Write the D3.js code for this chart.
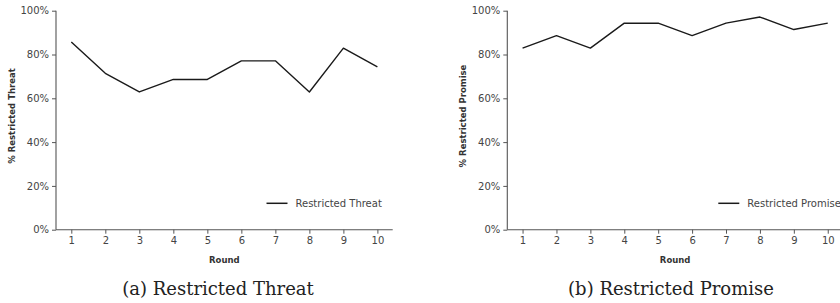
<!DOCTYPE html>
<html lang="en">
<head>
<meta charset="utf-8">
<title>Restricted Threat / Restricted Promise</title>
<script src="https://d3js.org/d3.v7.min.js"></script>
<style>
  body { margin: 0; background: #fff; }
  text { font-family: "DejaVu Sans", sans-serif; }
</style>
</head>
<body>
<svg width="840" height="303"></svg>
<script>
var rounds = [1, 2, 3, 4, 5, 6, 7, 8, 9, 10];
var threat = [0.857, 0.714, 0.629, 0.686, 0.686, 0.771, 0.771, 0.629, 0.829, 0.743];
var promise = [0.829, 0.886, 0.829, 0.943, 0.943, 0.886, 0.943, 0.971, 0.914, 0.943];
var yTicks = [0, 0.2, 0.4, 0.6, 0.8, 1];

var svg = d3.select("svg");

function panel(opt) {
  var x = d3.scaleLinear()
      .domain([0.55, 10.45])
      .range([opt.left, opt.right]);
  var y = d3.scaleLinear()
      .domain([0, 1])
      .range([229.7, 10.7]);

  var g = svg.append("g");

  // y axis
  var ya = g.append("g")
      .attr("transform", "translate(" + opt.left + ",0)")
      .call(d3.axisLeft(y).tickValues(yTicks).tickSize(4).tickPadding(3)
        .tickFormat(d3.format(".0%")));
  // x axis
  var xa = g.append("g")
      .attr("transform", "translate(0," + y(0) + ")")
      .call(d3.axisBottom(x).tickValues(rounds).tickSize(4).tickPadding(3));

  [ya, xa].forEach(function(a) {
    a.select(".domain").attr("stroke", "#555").attr("stroke-width", 1.1)
      .attr("d", a === ya ? "M0," + y(1) + "V" + y(0) : "M" + opt.left + ",0H" + opt.right);
    a.selectAll(".tick line").attr("stroke", "#555");
    a.selectAll(".tick text").attr("fill", "#444").style("font-size", "10px")
      .style("font-family", "DejaVu Sans, sans-serif");
  });

  // line
  g.append("path")
      .datum(opt.values)
      .attr("fill", "none")
      .attr("stroke", "#1a1a1a")
      .attr("stroke-width", 1.4)
      .attr("stroke-linejoin", "round")
      .attr("d", d3.line()
        .x(function(d, i) { return x(rounds[i]); })
        .y(function(d) { return y(d); }));

  // axis titles
  g.append("text")
      .attr("transform", "translate(" + opt.ylabX + ",116) rotate(-90)")
      .attr("text-anchor", "middle")
      .attr("font-weight", "bold")
      .style("font-size", "8.5px")
      .attr("fill", "#333")
      .text(opt.ylab);

  g.append("text")
      .attr("x", x(5.5))
      .attr("y", 263)
      .attr("text-anchor", "middle")
      .attr("font-weight", "bold")
      .style("font-size", "8.5px")
      .attr("fill", "#333")
      .text("Round");

  // legend
  g.append("line")
      .attr("x1", opt.legX).attr("x2", opt.legX + 21)
      .attr("y1", 203.3).attr("y2", 203.3)
      .attr("stroke", "#1a1a1a").attr("stroke-width", 1.5);
  g.append("text")
      .attr("x", opt.legX + 29)
      .attr("y", 206.8)
      .style("font-size", "10px")
      .attr("fill", "#444")
      .text(opt.name);

  // caption
  svg.append("text")
      .attr("x", opt.capX)
      .attr("y", 295)
      .attr("text-anchor", "middle")
      .style("font-family", "DejaVu Serif, serif")
      .style("font-size", "18px")
      .attr("fill", "#222")
      .text(opt.caption);
}

panel({ left: 56, right: 392.7, values: threat, name: "Restricted Threat",
        ylab: "% Restricted Threat", ylabX: 15, legX: 266.5,
        capX: 218, caption: "(a) Restricted Threat" });
panel({ left: 507.3, right: 843, values: promise, name: "Restricted Promise",
        ylab: "% Restricted Promise", ylabX: 465.5, legX: 718.3,
        capX: 671, caption: "(b) Restricted Promise" });
</script>
</body>
</html>
